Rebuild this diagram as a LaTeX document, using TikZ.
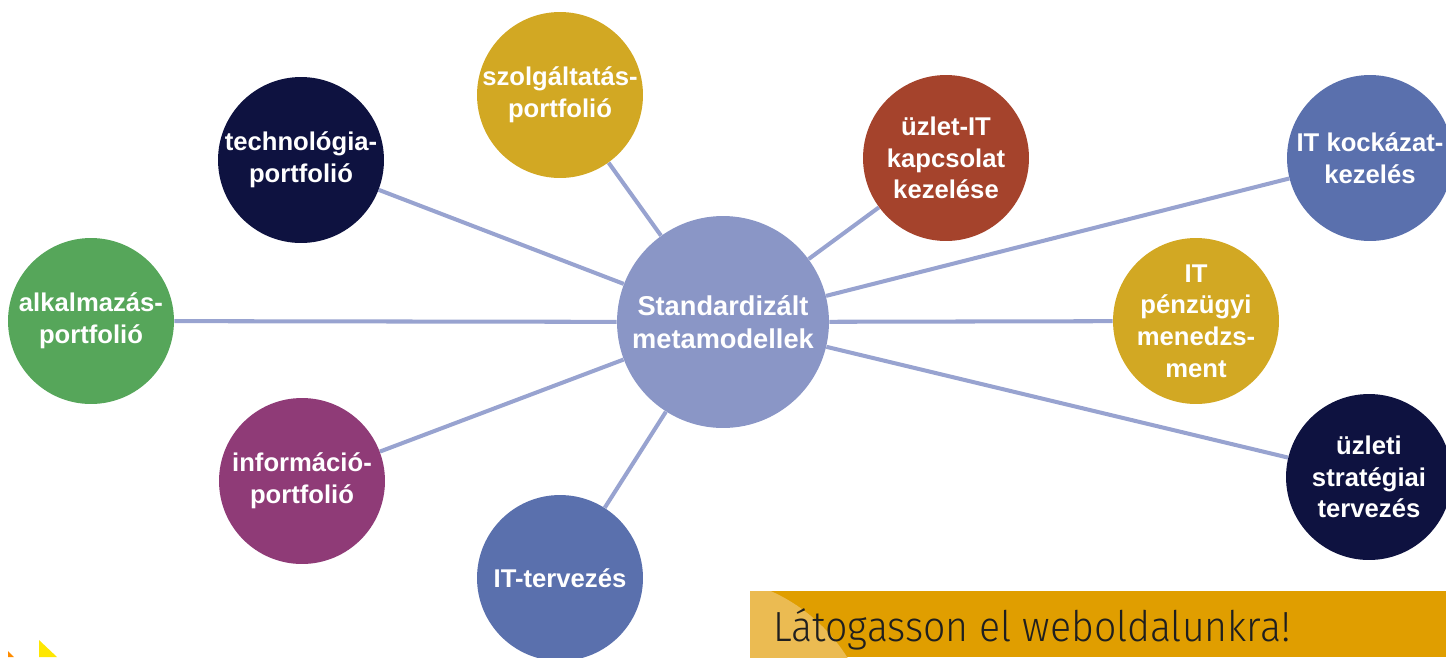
\documentclass[tikz,border=0pt]{standalone}
\usepackage{fontspec}
\setmainfont{Liberation Sans}
\newfontfamily\lightfont{Fira Sans Light}
\usetikzlibrary{backgrounds}
\definecolor{navy}{HTML}{0E1240}
\definecolor{gold}{HTML}{D2A823}
\definecolor{rust}{HTML}{A5432C}
\definecolor{steel}{HTML}{5A70AD}
\definecolor{leaf}{HTML}{56A65A}
\definecolor{plum}{HTML}{8F3B77}
\definecolor{hubcol}{HTML}{8A96C6}
\definecolor{linecol}{HTML}{98A3D0}
\definecolor{banner}{HTML}{E09E00}
\definecolor{bannerlight}{HTML}{EBBB52}

\begin{document}
\begin{tikzpicture}[x=0.02cm,y=-0.02cm]
\tikzstyle{bubble}=[circle,minimum size=3.32cm,inner sep=0,align=center,text=white,font=\bfseries\fontsize{14.6}{18}\selectfont]
\tikzstyle{hub}=[bubble,minimum size=4.24cm,font=\bfseries\fontsize{15.5}{19}\selectfont]
\tikzstyle{spoke}=[line width=2.3pt,draw=linecol]
\clip (0,0) rectangle (1446,657);
\node[hub,fill=hubcol] (meta) at (723,322) {Standardizált\\metamodellek};
\node[bubble,fill=navy] (tech) at (301,160) {technológia-\\portfolió};
\node[bubble,fill=gold] (szolg) at (560,95) {szolgáltatás-\\portfolió};
\node[bubble,fill=rust] (uzlet) at (946,158) {üzlet-IT\\kapcsolat\\kezelése};
\node[bubble,fill=steel] (kock) at (1370,158) {IT kockázat-\\kezelés};
\node[bubble,fill=leaf] (alk) at (91,321) {alkalmazás-\\portfolió};
\node[bubble,fill=gold] (penz) at (1196,321) {IT\\pénzügyi\\menedzs-\\ment};
\node[bubble,fill=plum] (info) at (302,481) {információ-\\portfolió};
\node[bubble,fill=steel] (terv) at (560,578) {IT-tervezés};
\node[bubble,fill=navy] (strat) at (1369,477) {üzleti\\stratégiai\\tervezés};
\begin{scope}[on background layer]
\draw[spoke] (meta) -- (tech);
\draw[spoke] (meta) -- (szolg);
\draw[spoke] (meta) -- (uzlet);
\draw[spoke] (meta) -- (kock);
\draw[spoke] (meta) -- (alk);
\draw[spoke] (meta) -- (penz);
\draw[spoke] (meta) -- (info);
\draw[spoke] (meta) -- (terv);
\draw[spoke] (meta) -- (strat);
\end{scope}
% banner
\fill[banner] (750,591) rectangle (1446,657);
\begin{scope}
\clip (750,591) rectangle (1446,657);
\fill[bannerlight] (700,750) circle (3.48cm);
\end{scope}
\node[anchor=base west,inner sep=0,xscale=0.93,text=black!88,font=\lightfont\fontsize{24}{28}\selectfont] (visit) at (773,641) {Látogasson el weboldalunkra!};
% logo corner
\fill[yellow!90!orange] (39,640) -- (57,657) -- (39,657) -- cycle;
\fill[orange!90!yellow] (8,651) -- (14,657) -- (8,657) -- cycle;
\end{tikzpicture}
\end{document}
